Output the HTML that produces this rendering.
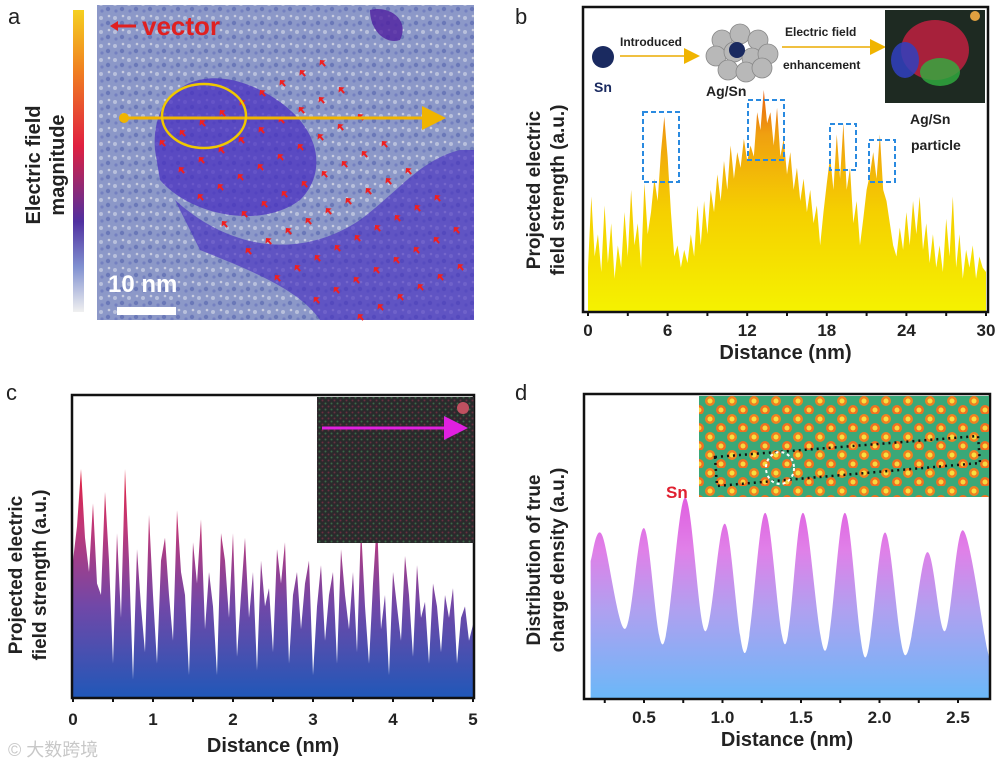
<!DOCTYPE html>
<html><head><meta charset="utf-8"><style>
html,body{margin:0;padding:0;background:#fff;width:1004px;height:768px;overflow:hidden}
svg{display:block;font-family:"Liberation Sans","Noto Sans CJK SC",sans-serif}
</style></head><body>
<svg id="fig" width="1004" height="768" viewBox="0 0 1004 768">
<defs>
<linearGradient id="cbar" x1="0" y1="0" x2="0" y2="1">
<stop offset="0" stop-color="#f5d020"/><stop offset="0.2" stop-color="#f08020"/><stop offset="0.45" stop-color="#e02040"/><stop offset="0.7" stop-color="#5030a0"/><stop offset="0.85" stop-color="#8090d0"/><stop offset="1" stop-color="#f0f0f0"/></linearGradient>
<linearGradient id="gb" x1="0" y1="312" x2="0" y2="90" gradientUnits="userSpaceOnUse">
<stop offset="0" stop-color="#f5f200"/><stop offset="0.45" stop-color="#f5d000"/><stop offset="0.8" stop-color="#f0a010"/><stop offset="1" stop-color="#e86010"/></linearGradient>
<linearGradient id="gc" x1="0" y1="698" x2="0" y2="470" gradientUnits="userSpaceOnUse">
<stop offset="0" stop-color="#2058b8"/><stop offset="0.4" stop-color="#7048a8"/><stop offset="0.75" stop-color="#c03878"/><stop offset="1" stop-color="#e02040"/></linearGradient>
<linearGradient id="gd" x1="0" y1="699" x2="0" y2="500" gradientUnits="userSpaceOnUse">
<stop offset="0" stop-color="#6ab8f8"/><stop offset="0.45" stop-color="#b0a0f0"/><stop offset="0.75" stop-color="#e080e8"/><stop offset="1" stop-color="#e060e0"/></linearGradient>
<pattern id="noise" width="14" height="14" patternUnits="userSpaceOnUse">
<rect width="14" height="14" fill="#8c98c8"/><circle cx="3" cy="4" r="2" fill="#b8c0dc"/><circle cx="10" cy="9" r="2.2" fill="#6a78b8"/><circle cx="11" cy="2" r="1.3" fill="#c8ccdf"/><circle cx="4" cy="11" r="1.6" fill="#7480c0"/></pattern>
<pattern id="cnoise" width="6" height="6" patternUnits="userSpaceOnUse">
<rect width="6" height="6" fill="#2a2a2c"/><circle cx="1.5" cy="1.5" r="1" fill="#3a6a48"/><circle cx="4.5" cy="4.5" r="1" fill="#6a3040"/></pattern>
<pattern id="dots" width="22" height="18" patternUnits="userSpaceOnUse">
<rect width="22" height="18" fill="#3aa878"/><circle cx="6" cy="5" r="5" fill="#f08020"/><circle cx="6" cy="5" r="2.5" fill="#f8e040"/><circle cx="17" cy="14" r="5" fill="#f07020"/><circle cx="17" cy="14" r="2.5" fill="#f8d840"/></pattern>
<marker id="ah" markerWidth="8" markerHeight="8" refX="6" refY="4" orient="auto"><path d="M0,0L8,4L0,8z" fill="#f0b400"/></marker>
<marker id="am" markerWidth="8" markerHeight="8" refX="6" refY="4" orient="auto"><path d="M0,0L8,4L0,8z" fill="#e020e0"/></marker>
</defs>

<!-- Panel a -->
<text x="8" y="24" font-size="22" fill="#222">a</text>
<rect x="73" y="10" width="11" height="302" fill="url(#cbar)"/>
<text transform="translate(42,165) rotate(-90)" text-anchor="middle" font-size="20" font-weight="bold" fill="#222"><tspan x="0" dy="-2">Electric field</tspan><tspan x="0" dy="24">magnitude</tspan></text>
<g>
<rect x="97" y="5" width="377" height="315" fill="url(#noise)"/>
<path d="M155,150 C150,90 200,60 260,90 C320,120 330,170 300,200 C260,230 190,215 160,180Z" fill="#4a30c0" opacity="0.75"/>
<path d="M175,200 C230,250 300,260 360,220 C400,190 420,160 460,150 L474,150 L474,320 L320,320 C300,290 250,270 200,250Z" fill="#4830c0" opacity="0.65"/>
<path d="M370,10 C390,5 410,20 400,40 C385,45 370,30 370,10Z" fill="#5020a0" opacity="0.8"/>
<g id="arrows" fill="#f02020"></g>
<line x1="124" y1="118" x2="440" y2="118" stroke="#f0b400" stroke-width="3" marker-end="url(#ah)"/>
<circle cx="124" cy="118" r="5" fill="#f0b400"/>
<ellipse cx="204" cy="116" rx="42" ry="32" fill="none" stroke="#f0c800" stroke-width="2.5"/>
<text x="108" y="292" font-size="24" font-weight="bold" fill="#fff">10 nm</text>
<rect x="117" y="307" width="59" height="8" fill="#fff"/>
<line x1="112" y1="26" x2="136" y2="26" stroke="#e02020" stroke-width="3"/>
<path d="M110,26L118,21L118,31z" fill="#e02020"/>
<text x="142" y="35" font-size="26" font-weight="bold" fill="#e02020">vector</text>
</g>

<!-- Panel b -->
<text x="515" y="24" font-size="22" fill="#222">b</text>
<text transform="translate(542,190) rotate(-90)" text-anchor="middle" font-size="19" font-weight="bold" fill="#222"><tspan x="0" dy="-2">Projected electric</tspan><tspan x="0" dy="24">field strength (a.u.)</tspan></text>
<g id="chartB"></g>
<g>
<circle cx="603" cy="57" r="11" fill="#1a2a60"/>
<text x="594" y="92" font-size="14" font-weight="bold" fill="#1a2a60">Sn</text>
<line x1="620" y1="56" x2="696" y2="56" stroke="#f0c040" stroke-width="2" marker-end="url(#ah)"/>
<text x="620" y="46" font-size="12" font-weight="bold" fill="#222">Introduced</text>
<g fill="#b8b8b8" stroke="#888" stroke-width="0.8"><circle cx="722" cy="40" r="10"/><circle cx="740" cy="34" r="10"/><circle cx="758" cy="40" r="10"/><circle cx="716" cy="56" r="10"/><circle cx="734" cy="52" r="10"/><circle cx="752" cy="58" r="10"/><circle cx="768" cy="54" r="10"/><circle cx="728" cy="70" r="10"/><circle cx="746" cy="72" r="10"/><circle cx="762" cy="68" r="10"/></g>
<circle cx="737" cy="50" r="8" fill="#1a2a60"/>
<text x="706" y="96" font-size="14" font-weight="bold" fill="#222">Ag/Sn</text>
<line x1="782" y1="47" x2="882" y2="47" stroke="#f0c040" stroke-width="2" marker-end="url(#ah)"/>
<text x="785" y="36" font-size="12" font-weight="bold" fill="#222">Electric field</text>
<text x="783" y="69" font-size="12" font-weight="bold" fill="#222">enhancement</text>
<rect x="885" y="10" width="100" height="93" fill="#1e2a22"/>
<ellipse cx="935" cy="50" rx="34" ry="30" fill="#c02040" opacity="0.85"/>
<ellipse cx="905" cy="60" rx="14" ry="18" fill="#3040c0" opacity="0.85"/>
<ellipse cx="940" cy="72" rx="20" ry="14" fill="#30b040" opacity="0.8"/>
<circle cx="975" cy="16" r="5" fill="#e0a040"/>
<text x="910" y="124" font-size="14" font-weight="bold" fill="#222">Ag/Sn</text>
<text x="911" y="150" font-size="14" font-weight="bold" fill="#222">particle</text>
<g fill="none" stroke="#2a8ae0" stroke-width="2" stroke-dasharray="5,3"><rect x="643" y="112" width="36" height="70"/><rect x="748" y="100" width="36" height="60"/><rect x="830" y="124" width="26" height="46"/><rect x="869" y="140" width="26" height="42"/></g>
</g>

<!-- Panel c -->
<text x="6" y="400" font-size="22" fill="#222">c</text>
<text transform="translate(24,575) rotate(-90)" text-anchor="middle" font-size="19" font-weight="bold" fill="#222"><tspan x="0" dy="-2">Projected electric</tspan><tspan x="0" dy="24">field strength (a.u.)</tspan></text>
<g id="chartC"></g>
<g>
<rect x="317" y="397" width="157" height="146" fill="url(#cnoise)"/>
<line x1="322" y1="428" x2="462" y2="428" stroke="#e020e0" stroke-width="3" marker-end="url(#am)"/>
<circle cx="463" cy="408" r="6" fill="#c05060"/>
</g>

<!-- Panel d -->
<text x="515" y="400" font-size="22" fill="#222">d</text>
<text transform="translate(542,560) rotate(-90)" text-anchor="middle" font-size="19" font-weight="bold" fill="#222"><tspan x="0" dy="-2">Distribution of true</tspan><tspan x="0" dy="24">charge density (a.u.)</tspan></text>
<g id="chartD"></g>
<g>
<rect x="699" y="396" width="290" height="101" fill="url(#dots)"/>
<path d="M715,457L978,436L980,463L717,486Z" fill="none" stroke="#111" stroke-width="2.5" stroke-dasharray="2,4"/>
<ellipse cx="780" cy="468" rx="14" ry="16" fill="none" stroke="#fff" stroke-width="2" stroke-dasharray="3,3"/>
<text x="666" y="498" font-size="17" font-weight="bold" fill="#e02030">Sn</text>
</g>

<text x="8" y="756" font-size="18" fill="#c8c8c8">© 大数跨境</text>
</svg>
<script>
// ---------- data ----------
const bStep = 0.25;
const bVals = [20,52,25,35,18,48,22,40,15,30,20,45,25,55,30,40,20,58,35,45,60,50,72,88,70,45,25,30,20,28,22,35,25,48,30,50,35,55,45,62,50,68,55,75,60,72,65,78,68,75,70,90,82,100,85,90,75,92,70,78,62,72,55,65,50,60,45,55,40,48,30,45,58,70,55,80,60,85,55,65,40,50,30,42,55,62,72,60,80,55,50,40,30,25,38,28,45,30,50,35,52,28,40,22,35,20,30,18,42,25,52,20,35,15,28,20,30,15,25,20,18];
const bTicks = [0,6,12,18,24,30];
const cVals = [60,75,100,70,55,85,50,45,90,60,15,72,35,100,60,8,65,40,20,80,45,15,60,70,45,25,82,55,45,10,68,50,78,30,55,40,10,72,60,35,72,18,45,70,35,55,12,60,40,48,20,65,50,68,15,45,55,30,50,60,10,40,58,25,45,55,15,65,45,30,55,20,75,40,15,50,78,30,45,10,55,40,25,62,45,18,58,35,42,15,50,40,20,45,35,48,15,35,40,25,32];
const cTicks = [0,1,2,3,4,5];
const dDist = [0.16,0.232,0.379,0.5,0.621,0.761,0.889,1.016,1.143,1.271,1.398,1.513,1.653,1.78,1.908,2.035,2.163,2.303,2.417,2.532,2.685,2.70];
const dVals = [63,75,32,78,25,92,31,80,21,85,25,85,22,85,19,76,20,67,31,77,23,23];
const dTicks = ["0.5","1.0","1.5","2.0","2.5"];

const NS = "http://www.w3.org/2000/svg";
function mk(parent, tag, attrs){const e=document.createElementNS(NS,tag);for(const k in attrs)e.setAttribute(k,attrs[k]);parent.appendChild(e);return e;}

function axes(g, x0, x1, y0, y1, xs, ticks, labels, labelY, titleY){
  const ax = mk(g,'rect',{x:x0,y:y1,width:x1-x0,height:y0-y1,fill:'none',stroke:'#111','stroke-width':2.5});
  
  
  const t0=+ticks[0], t1=+ticks[1];
  const half=(t1-t0)/2;
  for(let v=t0-half; xs(v)<=x1+1; v+=half){
    const x=xs(v);
    if(x<x0-1) continue;
    mk(g,'line',{x1:x,y1:y0,x2:x,y2:y0+4,stroke:'#111','stroke-width':2});
  }
  ticks.forEach((t,i)=>{
    const x = xs(+t);
    const tx = mk(g,'text',{x:x,y:labelY,'text-anchor':'middle','font-size':17,'font-weight':'bold',fill:'#222'});
    tx.textContent = labels[i];
    
    
  });
  const tt = mk(g,'text',{x:(x0+x1)/2,y:titleY,'text-anchor':'middle','font-size':20,'font-weight':'bold',fill:'#222'});
  tt.textContent = 'Distance (nm)';
  
  
}

// Chart B
(function(){
  const g=document.getElementById('chartB');
  const xs=d=>588+d*(986-588)/30, ys=v=>312-v*2.22;
  let p=`M${xs(0)},312`;
  bVals.forEach((v,i)=>{p+=`L${xs(i*bStep)},${ys(v)}`;});
  p+=`L${xs((bVals.length-1)*bStep)},312Z`;
  const a=mk(g,'path',{d:p,fill:'url(#gb)'});
  
  
  axes(g,583,988,312,7,xs,bTicks,bTicks.map(String),336,359);
})();

// Chart C
(function(){
  const g=document.getElementById('chartC');
  const n=cVals.length;
  const xs=d=>73+d*(473-73)/5, ys=v=>698-v*2.29;
  let p=`M${xs(0)},698`;
  cVals.forEach((v,i)=>{p+=`L${xs(i*5/(n-1))},${ys(v)}`;});
  p+=`L${xs(5)},698Z`;
  const a=mk(g,'path',{d:p,fill:'url(#gc)'});
  
  
  axes(g,72,474,698,395,xs,cTicks,cTicks.map(String),725,752);
})();

// Chart D
(function(){
  const g=document.getElementById('chartD');
  const xs=d=>644+(d-0.5)*157, ys=v=>699-v*2.19;
  const pts=dDist.map((d,i)=>[xs(d),ys(dVals[i])]);
  let p=`M${pts[0][0]},699L${pts[0][0]},${pts[0][1]}`;
  for(let i=0;i<pts.length-1;i++){
    const p0=pts[Math.max(0,i-1)],p1=pts[i],p2=pts[i+1],p3=pts[Math.min(pts.length-1,i+2)];
    const c1=[p1[0]+(p2[0]-p0[0])/6,p1[1]+(p2[1]-p0[1])/6];
    const c2=[p2[0]-(p3[0]-p1[0])/6,p2[1]-(p3[1]-p1[1])/6];
    p+=`C${c1[0]},${c1[1]} ${c2[0]},${c2[1]} ${p2[0]},${p2[1]}`;
  }
  p+=`L${pts[pts.length-1][0]},699Z`;
  const a=mk(g,'path',{d:p,fill:'url(#gd)'});
  
  
  axes(g,584,990,699,394,xs,dTicks,dTicks,723,746);
})();

// red field arrows in panel a (decorative)
(function(){
  const g=document.getElementById('arrows');
  const rows=[[160,140],[175,165],[190,190],[210,215],[230,240],[255,265],[290,285],[330,300]];
  rows.forEach((r,ri)=>{
    for(let k=0;k<9;k++){
      const x=r[0]+k*20+ri*4, y=r[1]-k*10+ri*2;
      if(x>470||y<40) continue;
      const c=mk(g,'path',{d:`M${x},${y}l-4,4l3,0l0,4l2,0l0,-4l3,0z`,transform:`rotate(-40 ${x} ${y})`});
      
      
    }
  });
})();
</script>
</body></html>
